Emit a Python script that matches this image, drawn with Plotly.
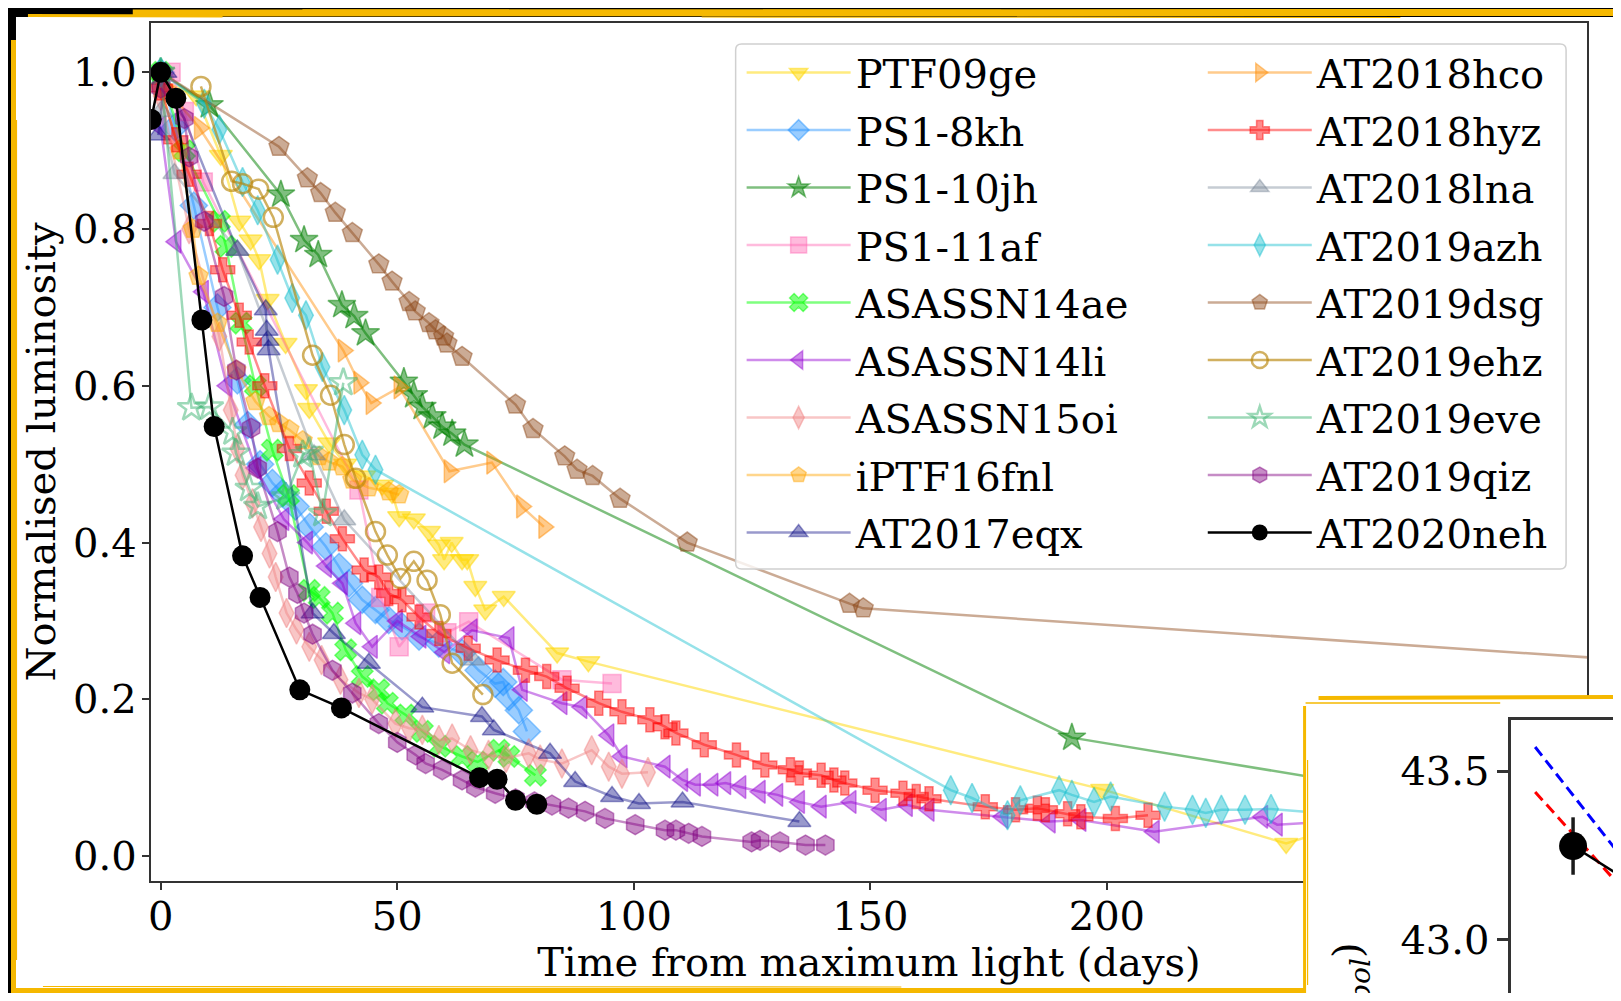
import plotly.graph_objects as go

# The page places the figure 8 px from the top-left corner of the window,
# so the figure is sized to fit the window exactly (1621-16 by 1001-16).
W, H = 1605, 985
OFF = 8
FONT = "DejaVu Serif"
FS = 40

# ---------------- data (time from max light [days], normalised luminosity) -------------
names = ["PTF09ge", "PS1-8kh", "PS1-10jh", "PS1-11af", "ASASSN14ae", "ASASSN14li",
         "ASASSN15oi", "iPTF16fnl", "AT2017eqx", "AT2018hco", "AT2018hyz", "AT2018lna",
         "AT2019azh", "AT2019dsg", "AT2019ehz", "AT2019eve", "AT2019qiz", "AT2020neh"]

ptf09ge_t = [0, 7.5, 12.7, 16.6, 19.0, 20.8, 22.6, 26.4, 30.7, 31.4, 35.6, 39.0, 43.0, 46.8, 48.9, 50.4,
             53.5, 56.7, 58.8, 59.9, 61.5, 63.7, 64.8, 66.5, 68.6, 72.5, 83.8, 90.4, 199.0, 237.9, 248.0]
ptf09ge_L = [0.99, 0.97, 0.894, 0.81, 0.786, 0.761, 0.71, 0.654, 0.595, 0.571, 0.527, 0.50, 0.485, 0.473, 0.463,
             0.433, 0.43, 0.414, 0.397, 0.378, 0.40, 0.378, 0.378, 0.344, 0.314, 0.331, 0.259, 0.248, 0.085, 0.016, 0.035]

ps18kh_t = [0, 3, 7, 12, 16.2, 18.4, 21, 23.6, 25.7, 28.5, 31.5, 34.9, 37.7, 39.8, 42.6, 45.4, 48.2, 51,
            54.6, 58.8, 63.7, 67.2, 70.7, 72.4, 73.6, 75.7, 77.4]
ps18kh_L = [1.0, 0.93, 0.83, 0.70, 0.607, 0.55, 0.50, 0.476, 0.463, 0.446, 0.42, 0.395, 0.369, 0.348, 0.327,
            0.314, 0.301, 0.293, 0.28, 0.271, 0.259, 0.237, 0.22, 0.222, 0.203, 0.186, 0.159]

ps110jh_t = [0, 10.3, 25.4, 30.3, 33.3, 38.3, 40.9, 43.3, 51.4, 53.5, 55.3, 57.4, 59.5, 61.6, 64.2, 192.6, 262]
ps110jh_L = [1.0, 0.958, 0.844, 0.786, 0.767, 0.703, 0.689, 0.667, 0.605, 0.588, 0.573, 0.561, 0.548, 0.539,
             0.525, 0.151, 0.082]

ps111af_t = [2.2, 5, 9, 41.9, 46.5, 50.4, 56, 60.5, 65.1, 84.8, 95.4]
ps111af_L = [1.0, 0.95, 0.86, 0.467, 0.33, 0.267, 0.31, 0.285, 0.299, 0.225, 0.22]

asassn14ae_t = [0, 5, 12.4, 13.8, 17, 20, 23.6, 27, 31.4, 33.5, 36.3, 39.1, 42.6, 46.1, 47.9, 51.8, 55.3,
                59, 63.7, 67, 71.5, 73.6, 79.2]
asassn14ae_L = [1.0, 0.9, 0.81, 0.778, 0.68, 0.60, 0.518, 0.46, 0.339, 0.33, 0.31, 0.263, 0.229, 0.212, 0.195,
                0.18, 0.159, 0.14, 0.127, 0.12, 0.135, 0.127, 0.103]

asassn14li_t = [0, 3.2, 9, 14, 20.1, 26, 31, 35, 38.4, 41.2, 44.7, 50, 55, 60, 65.8, 73.6, 76.4, 84.8, 89,
                94.7, 97.5, 106.6, 110.3, 113, 116.7, 119.4, 122.6, 126.7, 130.4, 135, 139.6, 145.9, 152.3,
                157.8, 162.4, 178, 188, 194.5, 210, 232.9, 236, 250]
asassn14li_L = [0.93, 0.784, 0.72, 0.60, 0.495, 0.43, 0.40, 0.37, 0.348, 0.297, 0.267, 0.30, 0.28, 0.26, 0.288,
                0.278, 0.212, 0.195, 0.19, 0.154, 0.127, 0.114, 0.097, 0.091, 0.091, 0.093, 0.088, 0.082,
                0.078, 0.069, 0.063, 0.069, 0.059, 0.065, 0.059, 0.05, 0.044, 0.046, 0.031, 0.05, 0.04, 0.045]

asassn15oi_t = [0, 6, 12.4, 14.8, 16.2, 17.3, 19.4, 21.2, 23, 24.3, 26.6, 28.7, 31.4, 34, 38, 41.9, 44.7,
                49.6, 52.5, 55.3, 58.8, 61.6, 65.5, 69.3, 73, 77.8, 80.2, 84.8, 91.1, 94.7, 97.5, 103]
asassn15oi_L = [0.97, 0.80, 0.663, 0.569, 0.52, 0.486, 0.45, 0.42, 0.386, 0.356, 0.31, 0.289, 0.267, 0.25,
                0.225, 0.208, 0.20, 0.169, 0.163, 0.161, 0.148, 0.15, 0.135, 0.129, 0.125, 0.131, 0.123,
                0.118, 0.135, 0.114, 0.105, 0.107]

iptf16fnl_t = [0, 4, 6.8, 8, 12, 16, 20, 22.9, 25, 27.2, 30, 33.5, 35.6, 38.4, 40.5, 44, 48.2, 50.4]
iptf16fnl_L = [0.98, 0.90, 0.80, 0.74, 0.68, 0.62, 0.58, 0.561, 0.552, 0.544, 0.53, 0.51, 0.503, 0.497, 0.48,
               0.47, 0.465, 0.461]

at2017eqx_t = [-0.5, 1, 16.2, 22.2, 22.4, 22.6, 22.8, 32.1, 36.6, 44, 55.3, 67.9, 70.4, 82.3, 87.6, 95.4,
               101.1, 110.3, 135]
at2017eqx_L = [0.92, 1.0, 0.773, 0.697, 0.671, 0.658, 0.646, 0.31, 0.284, 0.246, 0.19, 0.178, 0.161, 0.131,
               0.095, 0.076, 0.067, 0.069, 0.044]

at2018hco_t = [1, 8.2, 38.6, 41.9, 44.5, 50.4, 61, 70, 76.3, 81]
at2018hco_L = [0.98, 0.929, 0.645, 0.604, 0.578, 0.598, 0.491, 0.502, 0.446, 0.42]

at2018hyz_t = [0, 3.2, 6, 10.3, 13.1, 16.6, 18.7, 22, 27.2, 31.4, 35, 38.4, 43, 46.1, 48.2, 51, 54.6, 58.8,
               65, 71.1, 77.1, 81.6, 85.9, 92.6, 97.5, 103.4, 106.6, 108.9, 114.9, 121.7, 127.7, 133.1, 135,
               139.6, 142.3, 144.6, 151, 156.9, 159.7, 162.4, 174.3, 180.7, 185.3, 187, 191.7, 194.5, 201.8,
               208.7]
at2018hyz_L = [0.98, 0.914, 0.87, 0.807, 0.748, 0.69, 0.656, 0.60, 0.52, 0.476, 0.44, 0.405, 0.365, 0.356,
               0.335, 0.327, 0.305, 0.284, 0.265, 0.25, 0.237, 0.229, 0.214, 0.195, 0.184, 0.174, 0.165,
               0.157, 0.142, 0.129, 0.116, 0.11, 0.106, 0.103, 0.097, 0.093, 0.084, 0.08, 0.076, 0.073,
               0.063, 0.059, 0.061, 0.059, 0.054, 0.05, 0.048, 0.052]

at2018lna_t = [0, 2.9, 16.2, 32.4, 38.8, 66]
at2018lna_L = [0.95, 0.871, 0.773, 0.512, 0.429, 0.25]

at2019azh_t = [0, 9.2, 12.4, 17.3, 20.5, 24.7, 27.8, 30.7, 34.2, 38.8, 42.6, 45.4, 167, 171.5, 179, 181.7,
               189.9, 192.6, 197.3, 200.8, 212.2, 218.1, 220.9, 224.2, 229.2, 234.7, 255]
at2019azh_L = [1.0, 0.96, 0.927, 0.86, 0.824, 0.761, 0.712, 0.69, 0.624, 0.569, 0.512, 0.493, 0.084, 0.074,
               0.052, 0.071, 0.084, 0.078, 0.069, 0.076, 0.063, 0.059, 0.055, 0.059, 0.059, 0.06, 0.05]

at2019dsg_t = [0, 25, 31, 33.8, 36.9, 40.5, 46.1, 48.9, 52.5, 53.8, 56.7, 58.1, 59.8, 60.5, 63.7, 75, 78.7,
               85.4, 88, 91.3, 97.1, 111.3, 145.6, 148.5, 320]
at2019dsg_L = [1.0, 0.905, 0.865, 0.846, 0.821, 0.795, 0.755, 0.733, 0.707, 0.695, 0.68, 0.671, 0.663, 0.654,
               0.637, 0.576, 0.545, 0.51, 0.493, 0.485, 0.456, 0.40, 0.322, 0.316, 0.246]

at2019ehz_t = [8.5, 15, 17.3, 20.7, 23.8, 32.1, 35.9, 38.8, 41.2, 45.4, 47.9, 50.7, 53.5, 56.3, 59.1, 61.6, 68.1]
at2019ehz_L = [0.982, 0.861, 0.858, 0.851, 0.815, 0.639, 0.588, 0.525, 0.482, 0.414, 0.384, 0.354, 0.376,
               0.352, 0.308, 0.246, 0.206]

at2019eve_t = [0, 6.5, 10.3, 15.2, 15.9, 18.7, 20.5, 26.4, 30, 31.4, 34.2, 38.6]
at2019eve_L = [1.0, 0.572, 0.573, 0.541, 0.514, 0.469, 0.446, 0.458, 0.512, 0.516, 0.437, 0.604]

at2019qiz_t = [0, 5, 6, 9.2, 13.4, 16, 19.1, 20.5, 24.7, 27.2, 28.9, 30.3, 32.1, 36.3, 40.5, 46.1, 50, 53.9,
               56, 59.5, 63.7, 66.5, 70.7, 75, 79, 82.7, 86.2, 89.7, 93.9, 100.3, 106.6, 108.9, 111.6, 114.4,
               124.9, 126.7, 130.9, 136.3, 140.5]
at2019qiz_L = [0.98, 0.941, 0.892, 0.81, 0.714, 0.62, 0.546, 0.495, 0.414, 0.356, 0.335, 0.31, 0.283, 0.237,
               0.208, 0.169, 0.145, 0.129, 0.118, 0.11, 0.097, 0.088, 0.08, 0.073, 0.069, 0.065, 0.061,
               0.057, 0.048, 0.04, 0.033, 0.033, 0.029, 0.025, 0.018, 0.02, 0.018, 0.014, 0.014]

at2020neh_t = [-2, 0, 3.2, 8.7, 11.3, 17.3, 21, 29.4, 38.2, 67.4, 71.1, 75, 79.5]
at2020neh_L = [0.94, 1.0, 0.967, 0.684, 0.548, 0.383, 0.33, 0.212, 0.189, 0.100, 0.098, 0.071, 0.066]

series_t = [ptf09ge_t, ps18kh_t, ps110jh_t, ps111af_t, asassn14ae_t, asassn14li_t, asassn15oi_t,
            iptf16fnl_t, at2017eqx_t, at2018hco_t, at2018hyz_t, at2018lna_t, at2019azh_t, at2019dsg_t,
            at2019ehz_t, at2019eve_t, at2019qiz_t, at2020neh_t]
series_L = [ptf09ge_L, ps18kh_L, ps110jh_L, ps111af_L, asassn14ae_L, asassn14li_L, asassn15oi_L,
            iptf16fnl_L, at2017eqx_L, at2018hco_L, at2018hyz_L, at2018lna_L, at2019azh_L, at2019dsg_L,
            at2019ehz_L, at2019eve_L, at2019qiz_L, at2020neh_L]

x_ticks = [0, 50, 100, 150, 200, 250, 300]
y_ticks = [0.0, 0.2, 0.4, 0.6, 0.8, 1.0]

# inset (partially visible second panel): log bolometric luminosity
inset_t = [2.4, 11.5]
inset_blue = [43.571, 43.229]
inset_red = [43.438, 43.140]
inset_neh_t = [6.2, 11.5]
inset_neh_logL = [43.278, 43.179]
inset_pt_t = [6.2]
inset_pt_logL = [43.278]
inset_pt_err = [0.085]
inset_ticks = [43.0, 43.5]

# ---------------- styles ----------------
colors = ["#FFD700", "#1E90FF", "#008000", "#FF69B4", "#00FF00", "#9400D3", "#F08080", "#FFA500",
          "#000080", "#FF8C00", "#FF0000", "#708090", "#17BECF", "#8B4513", "#B8860B", "#3CB371",
          "#800080", "#000000"]
alphas = [0.5, 0.45, 0.5, 0.45, 0.5, 0.45, 0.45, 0.45, 0.4, 0.45, 0.45, 0.4, 0.45, 0.45, 0.65, 0.5, 0.45, 1.0]
symbols = ["triangle-down", "diamond", "star", "square", "x", "triangle-left", "diamond-tall", "pentagon",
           "triangle-up", "triangle-right", "cross", "triangle-up", "diamond-tall", "pentagon",
           "circle-open", "star-open", "hexagon", "circle"]
sizes = [20, 21, 21, 18, 19, 20, 21, 20, 20, 20, 20, 20, 21, 21, 19, 21, 20, 21]


def rgba(h, a):
    h = h.lstrip("#")
    r, g, b = int(h[0:2], 16), int(h[2:4], 16), int(h[4:6], 16)
    return f"rgba({r},{g},{b},{a})"


def px(x):  # window pixel -> paper fraction
    return (x - OFF) / W


def py(y):
    return 1 - (y - OFF) / H


fig = go.Figure()

for i, (nm, t, L) in enumerate(zip(names, series_t, series_L)):
    c = rgba(colors[i], alphas[i])
    is_open = symbols[i].endswith("open")
    fig.add_trace(go.Scatter(
        x=t, y=L, name=nm, mode="lines+markers",
        line=dict(color=c, width=2.5),
        marker=dict(symbol=symbols[i], size=sizes[i], color=c,
                    line=dict(color=c, width=2.5 if is_open else (0 if i == 17 else 1.5))),
        legend="legend" if i < 9 else "legend2",
        legendgroup=nm,
        xaxis="x", yaxis="y",
    ))

# cover subplot (white panel of the overlapping second figure)
fig.add_trace(go.Scatter(x=[None], y=[None], xaxis="x2", yaxis="y2", showlegend=False, hoverinfo="skip"))

# inset traces
fig.add_trace(go.Scatter(x=inset_t, y=inset_blue, mode="lines", xaxis="x3", yaxis="y3", showlegend=False,
                         line=dict(color="#0000FF", width=3, dash="11px,6px")))
fig.add_trace(go.Scatter(x=inset_t, y=inset_red, mode="lines", xaxis="x3", yaxis="y3", showlegend=False,
                         line=dict(color="#FF0000", width=3, dash="11px,6px")))
fig.add_trace(go.Scatter(x=inset_neh_t, y=inset_neh_logL, mode="lines", xaxis="x3", yaxis="y3",
                         showlegend=False, line=dict(color="black", width=2.5)))
fig.add_trace(go.Scatter(x=inset_pt_t, y=inset_pt_logL, mode="markers", xaxis="x3", yaxis="y3",
                         showlegend=False,
                         marker=dict(symbol="circle", size=28, color="#000000", line=dict(width=0)),
                         error_y=dict(type="data", array=inset_pt_err, color="#1a1a1a", thickness=3.5, width=0)))

axis_common = dict(showgrid=False, zeroline=False, showline=True, linecolor="#333", linewidth=2,
                   ticks="outside", ticklen=7, tickwidth=2, tickcolor="#333",
                   tickfont=dict(family=FONT, size=FS, color="black"))

legend_common = dict(xanchor="left", yanchor="top", bgcolor="rgba(0,0,0,0)", borderwidth=0,
                     font=dict(family=FONT, size=FS, color="black"), itemwidth=104,
                     traceorder="grouped", tracegroupgap=2.5)

fig.update_layout(
    width=W, height=H, autosize=False,
    margin=dict(l=0, r=0, t=0, b=0),
    paper_bgcolor="black", plot_bgcolor="white",
    font=dict(family=FONT, size=FS, color="black"),
    xaxis=dict(domain=[px(148), px(1587)], range=[-2.11, 301.5], tickvals=x_ticks,
               ticktext=[str(v) for v in x_ticks], mirror=True, anchor="y", ticklabelstandoff=-8,
               title=dict(text="Time from maximum light (days)", font=dict(family=FONT, size=FS),
                          standoff=3),
               **axis_common),
    yaxis=dict(domain=[py(881), py(23)], range=[-0.0319, 1.063], tickvals=y_ticks,
               ticktext=[f"{v:.1f}" for v in y_ticks], mirror=True, anchor="x", ticklabelstandoff=-3,
               title=dict(text="Normalised luminosity", font=dict(family=FONT, size=FS), standoff=5),
               **axis_common),
    xaxis2=dict(domain=[px(1305), 1], range=[0, 1], anchor="y2", visible=False, showgrid=False,
                zeroline=False),
    yaxis2=dict(domain=[0, py(699)], range=[0, 1], anchor="x2", visible=False, showgrid=False,
                zeroline=False),
    xaxis3=dict(domain=[px(1511), 1], range=[0, 10.2], anchor="y3", side="top", showline=True,
                linecolor="#333", linewidth=2.5, showgrid=False, zeroline=False, ticks="",
                showticklabels=False),
    yaxis3=dict(domain=[0, py(720)], range=[42.843, 43.651], anchor="x3", showline=True,
                linecolor="#333", linewidth=2.5, showgrid=False, zeroline=False, ticks="outside",
                ticklen=11, tickwidth=2.5, tickcolor="#333", tickvals=inset_ticks,
                ticktext=[f"{v:.1f}" for v in inset_ticks],
                tickfont=dict(family=FONT, size=FS, color="black")),
    legend=dict(x=px(740), y=py(40), **legend_common),
    legend2=dict(x=px(1202), y=py(40), **legend_common),
    showlegend=True,
)

# legend frame (rounded, semi-transparent) drawn above the data
x0, x1, y0, y1, r = px(734), px(1566), py(44), py(569), 6
rx, ry = r / W, r / H
frame = (f"M{x0+rx},{y0} L{x1-rx},{y0} Q{x1},{y0} {x1},{y0-ry} L{x1},{y1+ry} Q{x1},{y1} {x1-rx},{y1} "
         f"L{x0+rx},{y1} Q{x0},{y1} {x0},{y1+ry} L{x0},{y0-ry} Q{x0},{y0} {x0+rx},{y0} Z")
shapes = [
    dict(type="rect", xref="paper", yref="paper", x0=px(13), x1=1, y0=py(988), y1=py(17),
         fillcolor="white", line=dict(width=0), layer="below"),
    dict(type="path", xref="paper", yref="paper", path=frame, fillcolor="rgba(255,255,255,0.8)",
         line=dict(color="#d0d0d0", width=1.5), layer="above"),
]

YEL = "#F5B800"
sketch = [
    # main panel border (hand-drawn look)
    (130, 13, 1621, 12.5, 7), (25, 15.5, 220, 16, 3), (300, 10, 1000, 10.5, 1.5), (700, 17, 1400, 17.5, 1.2),
    (10.5, 40, 10.5, 993, 5), (13.5, 120, 13.5, 960, 1.2),
    (8, 990.5, 1305, 990.5, 5), (40, 986.5, 900, 987, 1.2),
    # overlapping panel border
    (1318, 698, 1621, 697, 4), (1305, 703, 1500, 703, 1.5), (1304, 706, 1304, 1001, 3),
    (1307, 760, 1307, 985, 1.2),
]
for xa, ya, xb, yb, w in sketch:
    shapes.append(dict(type="line", xref="paper", yref="paper", x0=px(xa), y0=py(ya), x1=px(xb), y1=py(yb),
                       line=dict(color=YEL, width=w), layer="above"))
fig.update_layout(shapes=shapes)

fig.add_annotation(text="log(<i>L</i><sub><i>bol</i></sub>)", textangle=-90, xref="paper", yref="paper",
                   x=px(1350), y=py(940), xanchor="center", yanchor="top", showarrow=False,
                   font=dict(family=FONT, size=FS, color="black"))

fig.write_html("out.html")
